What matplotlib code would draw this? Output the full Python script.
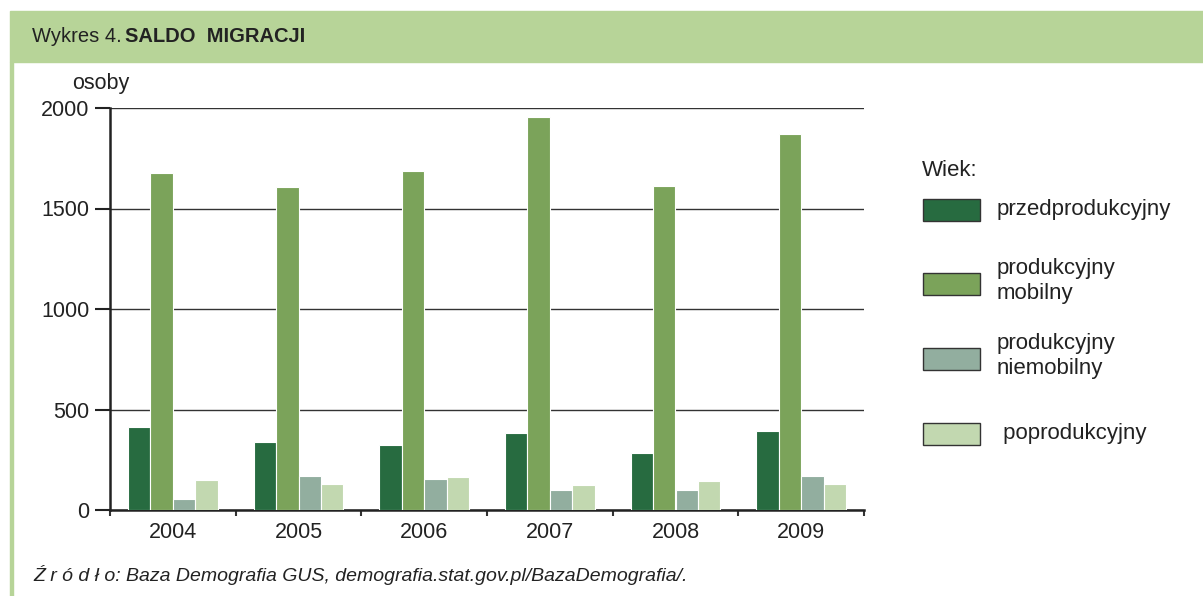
#!/usr/bin/env python3
"""Wykres 4. Saldo migracji wg grup wieku, 2004-2009."""

import matplotlib
matplotlib.use("Agg")
import matplotlib.pyplot as plt
from matplotlib.patches import Rectangle
import numpy as np

plt.rcParams["font.family"] = ["Liberation Sans", "DejaVu Sans"]

YEARS = ["2004", "2005", "2006", "2007", "2008", "2009"]
PRZEDPROD = [411, 337, 325, 381, 282, 393]
PROD_MOB = [1677, 1607, 1688, 1955, 1612, 1871]
PROD_NIEMOB = [56, 169, 156, 100, 100, 169]
POPROD = [149, 131, 163, 124, 144, 131]

SERIES = [PRZEDPROD, PROD_MOB, PROD_NIEMOB, POPROD]
LABELS = ["przedprodukcyjny", "produkcyjny\nmobilny", "produkcyjny\nniemobilny", " poprodukcyjny"]
COLORS = ["#276b40", "#7ba35a", "#92ae9f", "#c2d8b0"]
HEADER_GREEN = "#b7d498"
TXT = "#222222"

W, H = 1203, 596


def fx(px):
    return px / W


def fy(py):
    return 1 - py / H


def main() -> None:
    fig = plt.figure(figsize=(W / 100, H / 100), dpi=100)

    # header band and left frame line
    fig.patches.append(Rectangle((fx(10), fy(62)), 1 - fx(10), fy(11) - fy(62),
                                 transform=fig.transFigure, color=HEADER_GREEN, zorder=0))
    fig.patches.append(Rectangle((fx(10), 0), fx(3), fy(62),
                                 transform=fig.transFigure, color=HEADER_GREEN, zorder=0))
    t = fig.text(fx(32), fy(36), "Wykres 4.", fontsize=14.5, va="center", ha="left", color=TXT)
    fig.canvas.draw()
    x_end = t.get_window_extent().x1
    fig.text(fx(x_end + 3), fy(36), "SALDO  MIGRACJI", fontsize=14.5, va="center", ha="left",
             fontweight="bold", color=TXT)

    ax = fig.add_axes([fx(110), fy(510), fx(864) - fx(110), fy(108) - fy(510)])
    x = np.arange(len(YEARS))
    bw = 0.178
    for i, (vals, col) in enumerate(zip(SERIES, COLORS)):
        ax.bar(x + (i - 1.5) * bw, vals, bw, color=col, edgecolor="white", linewidth=0.8, zorder=3)

    ax.set_xlim(-0.5, len(YEARS) - 0.5)
    ax.set_ylim(0, 2000)
    ax.set_yticks([0, 500, 1000, 1500, 2000])
    ax.yaxis.grid(True, color="#333333", linewidth=1.0)
    ax.set_axisbelow(True)

    ax.set_xticks(x)
    ax.set_xticklabels(YEARS)
    ax.set_xticks(np.arange(-0.5, len(YEARS)), minor=True)
    ax.tick_params(axis="x", which="major", length=0, pad=9, labelsize=15.5, labelcolor=TXT)
    ax.tick_params(axis="x", which="minor", length=4, width=1.5, direction="out", color="#333333")
    ax.tick_params(axis="y", length=11, width=1.5, direction="out", pad=4,
                   labelsize=15.5, labelcolor=TXT, color=TXT)

    for side in ("top", "right"):
        ax.spines[side].set_visible(False)
    for side in ("left", "bottom"):
        ax.spines[side].set_linewidth(1.8)
        ax.spines[side].set_color(TXT)

    fig.text(fx(101), fy(84), "osoby", fontsize=15.5, ha="center", va="center", color=TXT)

    # legend
    fig.text(fx(922), fy(170), "Wiek:", fontsize=16, ha="left", va="center", color=TXT)
    centers = [210, 284, 359, 434]
    for lab, col, cy in zip(LABELS, COLORS, centers):
        fig.patches.append(Rectangle((fx(923), fy(cy + 11)), fx(57), fy(cy - 11) - fy(cy + 11),
                                     transform=fig.transFigure, facecolor=col,
                                     edgecolor="#333333", linewidth=1.0))
        fig.text(fx(997), fy(cy - 3 if "\n" in lab else cy), lab, fontsize=16, ha="left",
                 va="center", color=TXT, linespacing=1.3)

    fig.text(fx(33), fy(575), "Ź r ó d ł o: Baza Demografia GUS, demografia.stat.gov.pl/BazaDemografia/.",
             fontsize=14, style="italic", ha="left", va="center", color=TXT)

    fig.savefig("out.png", dpi=100)
    plt.close(fig)


if __name__ == "__main__":
    main()
